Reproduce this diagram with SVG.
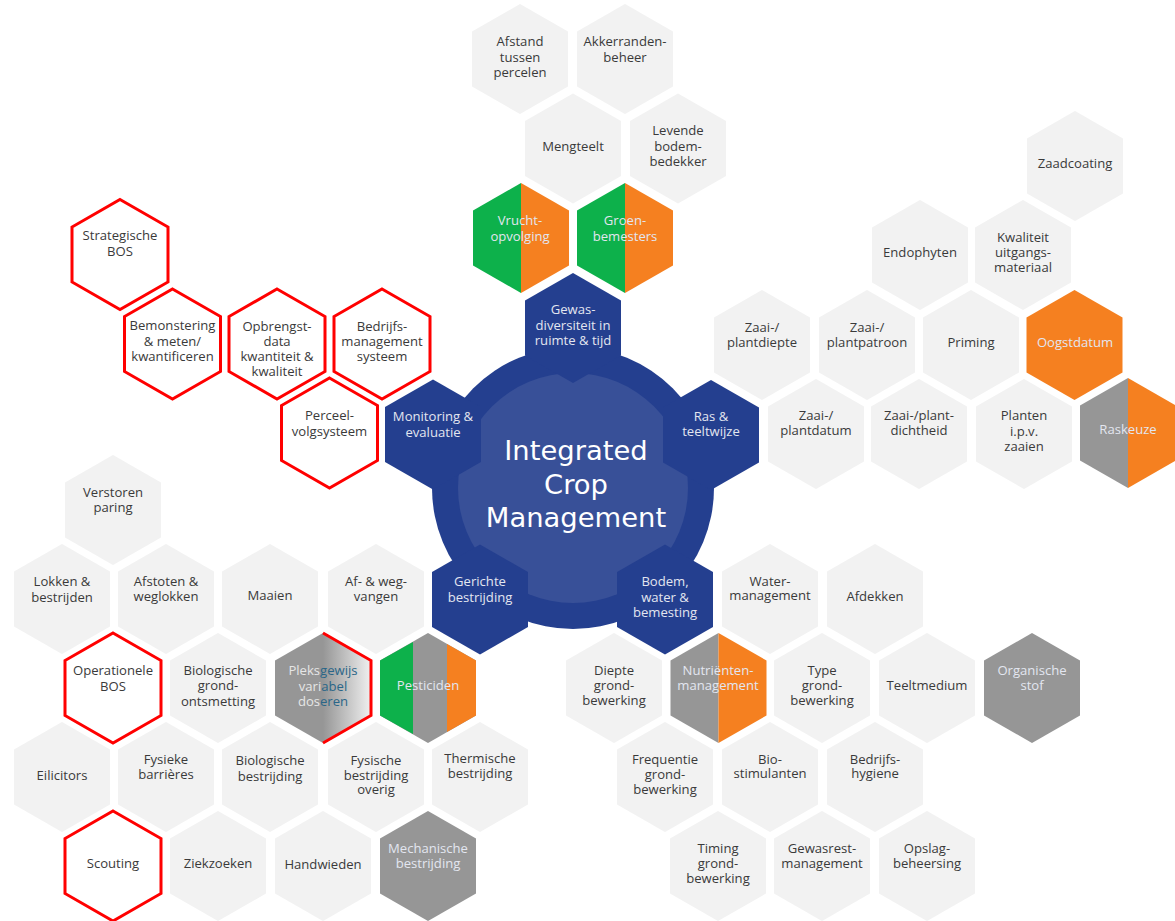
<svg xmlns="http://www.w3.org/2000/svg" width="1175" height="921" viewBox="0 0 1175 921">
<style>
text{font-family:"Open Sans","Liberation Sans",sans-serif;font-size:13.1px;text-anchor:middle;fill:#3a3a3a}
.w text,text.w{fill:#e3e6f0}
.g{fill:#f2f2f2}.b{fill:#243f8f}.r{fill:#fff;stroke:#f00;stroke-width:3}.m{fill:#969696}.o{fill:#f58020}.n{fill:#0db14b}
text.c{font-family:"DejaVu Sans",sans-serif;font-size:27.4px;fill:#fff}
</style>
<defs>
<polygon id="h" points="0,-55 48,-27.5 48,27.5 0,55 -48,27.5 -48,-27.5"/>
<polygon id="hl" points="0,-55 -48,-27.5 -48,27.5 0,55"/>
<polygon id="hr" points="0,-55 48,-27.5 48,27.5 0,55"/>
<polygon id="hgl" points="-15,-46 -48,-27.5 -48,27.5 -15,46"/>
<polygon id="hgr" points="19,-44 48,-27.5 48,27.5 19,44"/>
<linearGradient id="fade" x1="0" x2="1" y1="0" y2="0"><stop offset="0.5" stop-color="#969696"/><stop offset="1" stop-color="#f0f0f0"/></linearGradient>
</defs>
<g id="connectors"/>
<g id="hub">
<circle cx="573" cy="488" r="141" class="b"/>
<circle cx="573" cy="488" r="115" fill="#385098"/>
</g>
<g id="n-gewas" class="w"><use href="#h" x="573" y="328" class="b"/><text x="573" y="314">Gewas-</text><text x="573" y="330">diversiteit in</text><text x="573" y="345">ruimte &amp; tijd</text></g>
<g id="n-monitoring" class="w"><use href="#h" x="433" y="434.500" class="b"/><text x="433" y="421">Monitoring &amp;</text><text x="433" y="437">evaluatie</text></g>
<g id="n-ras" class="w"><use href="#h" x="711" y="435" class="b"/><text x="711" y="421">Ras &amp;</text><text x="711" y="436">teeltwijze</text></g>
<g id="n-gerichte" class="w"><use href="#h" x="480" y="599.500" class="b"/><text x="480" y="586">Gerichte</text><text x="480" y="602">bestrijding</text></g>
<g id="n-bodem" class="w"><use href="#h" x="665" y="599.500" class="b"/><text x="665" y="586">Bodem,</text><text x="665" y="602">water &amp;</text><text x="665" y="617">bemesting</text></g>
<g id="n-title"><text class="c" x="576" y="460">Integrated</text><text class="c" x="576" y="494">Crop</text><text class="c" x="576" y="527">Management</text></g>

<g id="n-afstand"><use href="#h" x="520" y="59" class="g"/><text x="520" y="46">Afstand</text><text x="520" y="62">tussen</text><text x="520" y="77">percelen</text></g>
<g id="n-akker"><use href="#h" x="625" y="59" class="g"/><text x="625" y="46">Akkerranden-</text><text x="625" y="62">beheer</text></g>
<g id="n-mengteelt"><use href="#h" x="573" y="148.500" class="g"/><text x="573" y="151">Mengteelt</text></g>
<g id="n-levende"><use href="#h" x="678" y="148.500" class="g"/><text x="678" y="135">Levende</text><text x="678" y="151">bodem-</text><text x="678" y="166">bedekker</text></g>
<g id="n-vrucht" class="w"><use href="#hl" x="521" y="238" class="n"/><use href="#hr" x="521" y="238" class="o"/><text x="520" y="225">Vrucht-</text><text x="520" y="241">opvolging</text></g>
<g id="n-groen" class="w"><use href="#hl" x="625" y="238" class="n"/><use href="#hr" x="625" y="238" class="o"/><text x="625" y="225">Groen-</text><text x="625" y="241">bemesters</text></g>

<g id="n-zaadcoating"><use href="#h" x="1075" y="166" class="g"/><text x="1075" y="168">Zaadcoating</text></g>
<g id="n-endophyten"><use href="#h" x="920" y="255" class="g"/><text x="920" y="257">Endophyten</text></g>
<g id="n-kwaliteit"><use href="#h" x="1023" y="255" class="g"/><text x="1023" y="242">Kwaliteit</text><text x="1023" y="257">uitgangs-</text><text x="1023" y="272">materiaal</text></g>
<g id="n-diepte"><use href="#h" x="762" y="345" class="g"/><text x="762" y="332">Zaai-/</text><text x="762" y="347">plantdiepte</text></g>
<g id="n-patroon"><use href="#h" x="867" y="345" class="g"/><text x="867" y="332">Zaai-/</text><text x="867" y="347">plantpatroon</text></g>
<g id="n-priming"><use href="#h" x="971" y="345" class="g"/><text x="971" y="347">Priming</text></g>
<g id="n-oogst" class="w"><use href="#h" x="1074.500" y="345" class="o"/><text x="1075" y="347">Oogstdatum</text></g>
<g id="n-datum"><use href="#h" x="816" y="434" class="g"/><text x="816" y="420">Zaai-/</text><text x="816" y="435">plantdatum</text></g>
<g id="n-dichtheid"><use href="#h" x="919" y="434" class="g"/><text x="919" y="420">Zaai-/plant-</text><text x="919" y="435">dichtheid</text></g>
<g id="n-planten"><use href="#h" x="1024" y="434" class="g"/><text x="1024" y="420">Planten</text><text x="1024" y="436">i.p.v.</text><text x="1024" y="451">zaaien</text></g>
<g id="n-raskeuze" class="w"><use href="#hl" x="1128" y="433" class="m"/><use href="#hr" x="1128" y="433" class="o"/><text x="1128" y="434">Raskeuze</text></g>

<g id="n-strategische"><use href="#h" x="120" y="254.500" class="r"/><text x="120" y="240">Strategische</text><text x="120" y="256">BOS</text></g>
<g id="n-bemonstering"><use href="#h" x="172.500" y="344" class="r"/><text x="172.500" y="330">Bemonstering</text><text x="172.500" y="346">&amp; meten/</text><text x="172.500" y="361">kwantificeren</text></g>
<g id="n-opbrengst"><use href="#h" x="277" y="344" class="r"/><text x="277" y="331">Opbrengst-</text><text x="277" y="346">data</text><text x="277" y="361">kwantiteit &amp;</text><text x="277" y="376">kwaliteit</text></g>
<g id="n-bedrijf"><use href="#h" x="382" y="344" class="r"/><text x="382" y="331">Bedrijfs-</text><text x="382" y="346">management</text><text x="382" y="361">systeem</text></g>
<g id="n-perceel"><use href="#h" x="329.500" y="433" class="r"/><text x="329.500" y="420">Perceel-</text><text x="329.500" y="436">volgsysteem</text></g>

<g id="n-verstoren"><use href="#h" x="113" y="510" class="g"/><text x="113" y="497">Verstoren</text><text x="113" y="512">paring</text></g>
<g id="n-lokken"><use href="#h" x="62" y="599" class="g"/><text x="62" y="586">Lokken &amp;</text><text x="62" y="602">bestrijden</text></g>
<g id="n-afstoten"><use href="#h" x="166" y="599" class="g"/><text x="166" y="586">Afstoten &amp;</text><text x="166" y="601">weglokken</text></g>
<g id="n-maaien"><use href="#h" x="270" y="599" class="g"/><text x="270" y="600">Maaien</text></g>
<g id="n-af"><use href="#h" x="376" y="599" class="g"/><text x="376" y="586">Af- &amp; weg-</text><text x="376" y="601">vangen</text></g>
<g id="n-operationele"><use href="#h" x="113" y="688" class="r"/><text x="113" y="675">Operationele</text><text x="113" y="691">BOS</text></g>
<g id="n-bioground"><use href="#h" x="218" y="688" class="g"/><text x="218" y="675">Biologische</text><text x="218" y="690">grond-</text><text x="218" y="706">ontsmetting</text></g>
<g id="n-pleks"><use href="#h" x="323" y="688" fill="url(#fade)"/><polyline points="323,633 371,660.500 371,715.500 323,743" fill="none" stroke="#f00" stroke-width="3"/><text x="323" y="675"><tspan fill="#e6e6e6">Pleks</tspan><tspan fill="#2a6688">gewijs</tspan></text><text x="323" y="691"><tspan fill="#e6e6e6">vari</tspan><tspan fill="#2a6688">abel</tspan></text><text x="323" y="706"><tspan fill="#e6e6e6">dos</tspan><tspan fill="#2a6688">eren</tspan></text></g>
<g id="n-pesticiden" class="w"><use href="#h" x="428" y="688" class="m"/><use href="#hgl" x="428" y="688" class="n"/><use href="#hgr" x="428" y="688" class="o"/><text x="428" y="690">Pesticiden</text></g>
<g id="n-eilicitors"><use href="#h" x="62" y="777" class="g"/><text x="62" y="780">Eilicitors</text></g>
<g id="n-fysieke"><use href="#h" x="166" y="777" class="g"/><text x="166" y="764">Fysieke</text><text x="166" y="779">barrières</text></g>
<g id="n-biobest"><use href="#h" x="270" y="777" class="g"/><text x="270" y="765">Biologische</text><text x="270" y="781">bestrijding</text></g>
<g id="n-fysische"><use href="#h" x="376" y="777" class="g"/><text x="376" y="765">Fysische</text><text x="376" y="780">bestrijding</text><text x="376" y="794">overig</text></g>
<g id="n-thermische"><use href="#h" x="480" y="777" class="g"/><text x="480" y="763">Thermische</text><text x="480" y="778">bestrijding</text></g>
<g id="n-scouting"><use href="#h" x="113" y="866" class="r"/><text x="113" y="868">Scouting</text></g>
<g id="n-ziekzoeken"><use href="#h" x="218" y="866" class="g"/><text x="218" y="868">Ziekzoeken</text></g>
<g id="n-handwieden"><use href="#h" x="323" y="866" class="g"/><text x="323" y="869">Handwieden</text></g>
<g id="n-mechanische" class="w"><use href="#h" x="428" y="866" class="m"/><text x="428" y="853">Mechanische</text><text x="428" y="868">bestrijding</text></g>

<g id="n-water"><use href="#h" x="770" y="599" class="g"/><text x="770" y="586">Water-</text><text x="770" y="600">management</text></g>
<g id="n-afdekken"><use href="#h" x="875" y="599" class="g"/><text x="875" y="601">Afdekken</text></g>
<g id="n-diepteg"><use href="#h" x="614" y="688" class="g"/><text x="614" y="675">Diepte</text><text x="614" y="690">grond-</text><text x="614" y="705">bewerking</text></g>
<g id="n-nutrienten" class="w"><use href="#hl" x="718.500" y="688" class="m"/><use href="#hr" x="718.500" y="688" class="o"/><text x="718" y="675">Nutriënten-</text><text x="718" y="690">management</text></g>
<g id="n-type"><use href="#h" x="822" y="688" class="g"/><text x="822" y="675">Type</text><text x="822" y="690">grond-</text><text x="822" y="705">bewerking</text></g>
<g id="n-teeltmedium"><use href="#h" x="927" y="688" class="g"/><text x="927" y="690">Teeltmedium</text></g>
<g id="n-organische" class="w"><use href="#h" x="1032" y="688" class="m"/><text x="1032" y="675">Organische</text><text x="1032" y="690">stof</text></g>
<g id="n-frequentie"><use href="#h" x="665" y="777" class="g"/><text x="665" y="764">Frequentie</text><text x="665" y="779">grond-</text><text x="665" y="794">bewerking</text></g>
<g id="n-bio"><use href="#h" x="770" y="777" class="g"/><text x="770" y="764">Bio-</text><text x="770" y="778">stimulanten</text></g>
<g id="n-hygiene"><use href="#h" x="875" y="777" class="g"/><text x="875" y="764">Bedrijfs-</text><text x="875" y="778">hygiene</text></g>
<g id="n-timing"><use href="#h" x="718" y="866" class="g"/><text x="718" y="853">Timing</text><text x="718" y="868">grond-</text><text x="718" y="883">bewerking</text></g>
<g id="n-gewasrest"><use href="#h" x="822" y="866" class="g"/><text x="822" y="853">Gewasrest-</text><text x="822" y="868">management</text></g>
<g id="n-opslag"><use href="#h" x="927" y="866" class="g"/><text x="927" y="853">Opslag-</text><text x="927" y="868">beheersing</text></g>
</svg>
